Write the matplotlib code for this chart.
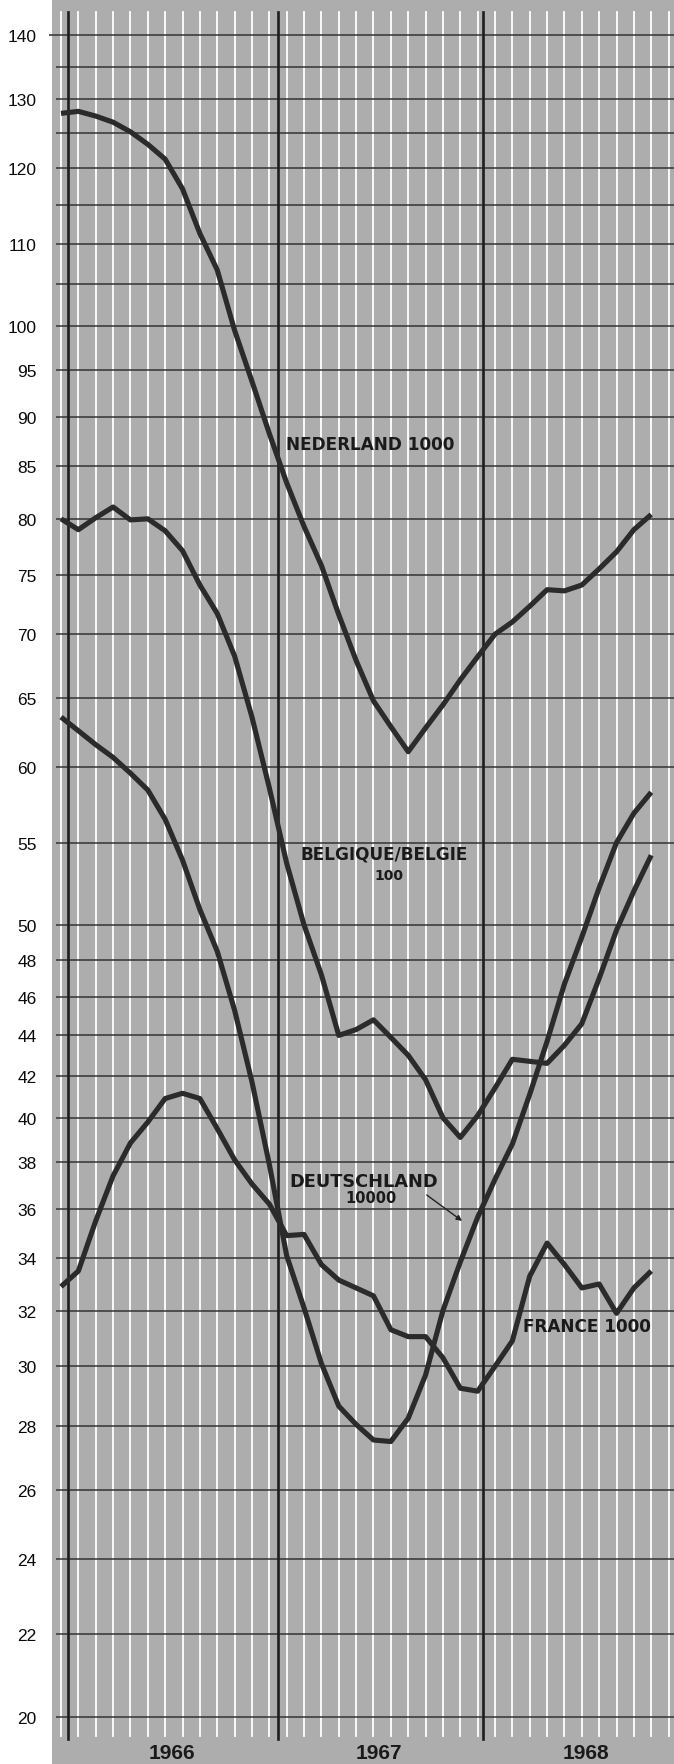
import matplotlib
matplotlib.use("Agg")
import matplotlib.pyplot as plt
import matplotlib.transforms as mtransforms
from matplotlib.ticker import NullLocator

# ---------------- data (monthly, Jan 1966 = 0) ----------------
months = list(range(35))

nederland = [127.9, 128.2, 127.5, 126.6, 125.2, 123.4, 121.3, 117.2, 111.3, 106.7,
             99.5, 93.8, 88.3, 83.4, 79.3, 75.8, 71.6, 67.9, 64.8, 62.9,
             61.1, 62.8, 64.5, 66.4, 68.2, 70.0, 71.0, 72.3, 73.7, 73.6,
             74.1, 75.5, 77.0, 79.0, 80.4]

belgique = [80.0, 79.0, 80.1, 81.1, 79.9, 80.0, 78.9, 77.1, 74.1, 71.7,
            68.25, 63.6, 58.6, 53.7, 50.0, 47.2, 44.0, 44.3, 44.8, 43.9,
            43.0, 41.8, 40.0, 39.1, 40.1, 41.4, 42.8, 42.7, 42.6, 43.5,
            44.6, 47.0, 49.7, 52.0, 54.2]

deutschland = [63.6, 62.6, 61.6, 60.7, 59.6, 58.45, 56.5, 53.9, 50.9, 48.5,
               45.3, 41.7, 37.9, 34.1, 32.1, 30.1, 28.65, 28.05, 27.55, 27.5,
               28.25, 29.7, 32.0, 33.85, 35.65, 37.25, 38.8, 41.1, 43.7, 46.7,
               49.3, 52.2, 55.0, 56.9, 58.3]

france = [32.9, 33.5, 35.5, 37.4, 38.85, 39.8, 40.9, 41.15, 40.9, 39.5,
          38.1, 37.05, 36.2, 34.9, 34.95, 33.75, 33.15, 32.85, 32.55, 31.3,
          31.05, 31.05, 30.3, 29.25, 29.15, 30.0, 30.9, 33.3, 34.6, 33.75,
          32.85, 33.0, 31.9, 32.85, 33.5]

ytick_values = [20, 22, 24, 26, 28, 30, 32, 34, 36, 38, 40, 42, 44, 46, 48, 50,
                55, 60, 65, 70, 75, 80, 85, 90, 95, 100, 110, 120, 130, 140]
ytick_labels = [str(v) for v in ytick_values]
grid_values = list(range(20, 51, 2)) + list(range(55, 141, 5))
year_labels = ["1966", "1967", "1968"]
year_label_pos = [6.4, 18.3, 30.25]
year_line_pos = [0.42, 12.52, 24.33]
month_lines = list(range(0, 36))

# ---------------- figure ----------------
W, H = 674, 1765
fig = plt.figure(figsize=(W / 100, H / 100), dpi=100)
fig.patch.set_facecolor("white")
left_px = 52
ax = fig.add_axes([left_px / W, 0, 1 - left_px / W, 1])
ax.set_facecolor("#adadad")
for s in ax.spines.values():
    s.set_visible(False)

ax.set_yscale("log")
ax.set_ylim(18.935, 146.0)
ax.set_xlim((left_px - 61) / 17.36, (W - 61) / 17.36)

ax.set_xticks([])
ax.set_yticks(ytick_values)
ax.set_yticklabels(ytick_labels)
ax.yaxis.set_minor_locator(NullLocator())
ax.tick_params(axis="y", length=0, pad=11, labelsize=12.5, labelcolor="#0a0a0a")
for t in ax.get_yticklabels():
    t.set_fontfamily(["Liberation Sans Narrow", "Liberation Sans", "DejaVu Sans"])

# vertical white month lines
top_frac = 1 - 12.7 / H
for m in month_lines:
    ax.axvline(m, ymin=1 - 1737 / H, ymax=top_frac, color="white", lw=1.3, zorder=1)

# horizontal grid lines
x0 = (56 - 61) / 17.36
x1 = ax.get_xlim()[1]
ax.hlines(grid_values, x0, x1, colors="#333333", lw=1.1, zorder=2)
ax.hlines([140], (49 - 61) / 17.36, x0, colors="#333333", lw=1.1, zorder=2, clip_on=False)

# dark year lines
for yl in year_line_pos:
    ax.axvline(yl, ymin=1 - 1740 / H, ymax=top_frac, color="#1e1e1e", lw=1.9, zorder=3)

# data lines
lkw = dict(color="#2b2b2b", lw=3.7, zorder=4, solid_joinstyle="round", solid_capstyle="butt")
ax.plot(months, nederland, **lkw)
ax.plot(months, belgique, **lkw)
ax.plot(months, deutschland, **lkw)
ax.plot(months, france, **lkw)

# labels
bold = dict(fontfamily=["DejaVu Sans"], fontweight="bold", color="#1a1a1a", zorder=6)
ax.text(12.96, 87.2, "NEDERLAND 1000", ha="left", va="center", fontsize=12.2, **bold)
ax.text(18.63, 54.3, "BELGIQUE/BELGIE", ha="center", va="center", fontsize=12.2, **bold)
ax.text(18.9, 52.95, "100", ha="center", va="center", fontsize=10, **bold)
ax.text(17.41, 37.18, "DEUTSCHLAND", ha="center", va="center", fontsize=12.8, **bold)
ax.text(17.85, 36.48, "10000", ha="center", va="center", fontsize=10.5, **bold)
ax.text(26.63, 31.43, "FRANCE 1000", ha="left", va="center", fontsize=12.2, **bold)
ax.annotate("", xy=(23.1, 35.5), xytext=(21.07, 36.58),
            arrowprops=dict(arrowstyle="-|>", color="#222222", lw=1.0,
                            mutation_scale=8, shrinkA=0, shrinkB=0), zorder=6)

# year labels at bottom
trans = mtransforms.blended_transform_factory(ax.transData, ax.transAxes)
for xp, lab in zip(year_label_pos, year_labels):
    ax.text(xp, (H - 1754) / H, lab, transform=trans, ha="center", va="center",
            fontsize=15, fontweight="bold",
            fontfamily=["Liberation Sans Narrow", "Liberation Sans", "DejaVu Sans"],
            color="#1a1a1a")

fig.savefig("out.png", dpi=100, facecolor=fig.get_facecolor())
